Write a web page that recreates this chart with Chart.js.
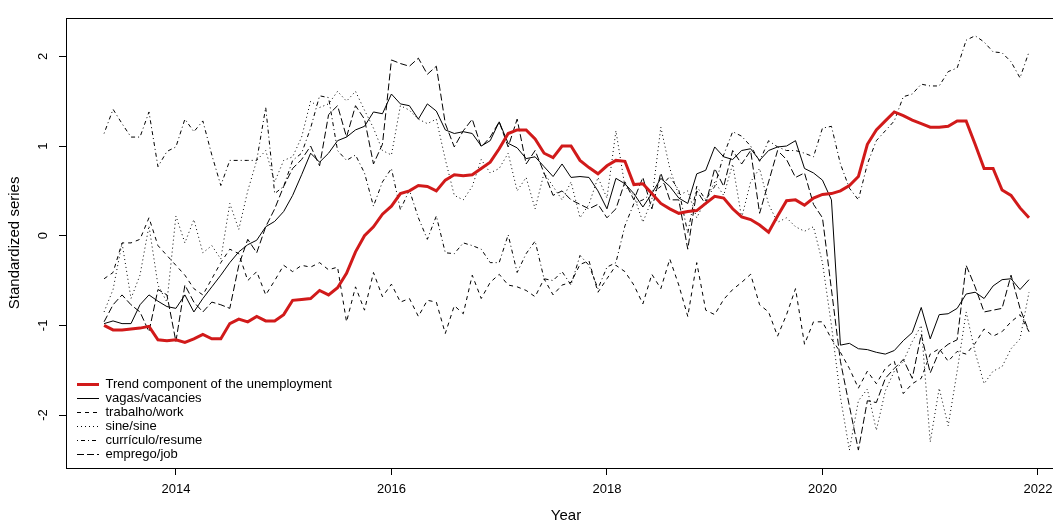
<!DOCTYPE html>
<html><head><meta charset="utf-8">
<script src="https://cdn.jsdelivr.net/npm/chart.js@4.4.1/dist/chart.umd.min.js"></script>
<style>
html,body{margin:0;padding:0;background:#fff;overflow:hidden;}
#wrap{position:relative;width:1075px;height:525px;}
</style></head><body>
<div id="wrap"><canvas id="c" width="1075" height="525"></canvas></div>
<script>
// Monthly observations: May 2013 .. Dec 2021 (104 months)
const startYear = 2013, startMonth = 5, nMonths = 104;
const months = Array.from({length: nMonths}, (_, i) => {
  const m = startMonth - 1 + i;
  return startYear + Math.floor(m / 12) + (m % 12) / 12;
});

const unemploymentTrend = [
 -1.00,-1.05,-1.05,-1.04,-1.03,-1.01,-1.16,-1.17,-1.16,-1.19,
 -1.15,-1.10,-1.15,-1.15,-0.98,-0.93,-0.96,-0.90,-0.95,-0.95,
 -0.88,-0.72,-0.71,-0.70,-0.61,-0.66,-0.58,-0.42,-0.18,0.00,
 0.10,0.24,0.33,0.47,0.50,0.56,0.55,0.50,0.62,0.68,
 0.67,0.68,0.75,0.82,0.97,1.14,1.18,1.18,1.08,0.92,
 0.87,1.00,1.00,0.84,0.76,0.69,0.78,0.84,0.83,0.57,
 0.58,0.47,0.36,0.30,0.25,0.27,0.28,0.36,0.44,0.42,
 0.30,0.21,0.18,0.12,0.04,0.22,0.39,0.40,0.34,0.42,
 0.46,0.47,0.50,0.56,0.66,1.02,1.18,1.28,1.38,1.34,
 1.29,1.25,1.21,1.21,1.22,1.28,1.28,1.02,0.75,0.75,
 0.51,0.45,0.31,0.20];

const vagas = [
 -0.98,-0.95,-0.98,-0.98,-0.77,-0.66,-0.73,-0.79,-0.81,-0.66,
 -0.85,-0.70,-0.57,-0.44,-0.30,-0.18,-0.10,-0.05,0.10,0.16,
 0.27,0.45,0.68,0.92,0.82,0.92,1.06,1.10,1.18,1.22,
 1.38,1.36,1.58,1.47,1.45,1.30,1.47,1.39,1.18,1.14,
 1.16,1.14,1.00,1.06,1.27,1.03,0.98,0.86,0.88,0.77,
 0.66,0.80,0.65,0.66,0.65,0.50,0.30,0.64,0.58,0.47,
 0.32,0.47,0.64,0.55,0.42,0.36,0.69,0.73,0.99,0.88,
 0.85,0.95,0.97,0.84,0.95,0.99,1.00,1.06,0.75,0.70,
 0.62,0.40,-1.22,-1.20,-1.26,-1.27,-1.30,-1.32,-1.28,-1.17,
 -1.08,-0.80,-1.15,-0.88,-0.87,-0.81,-0.65,-0.63,-0.70,-0.56,
 -0.49,-0.48,-0.60,-0.49];

const trabalho = [
 -0.48,-0.41,-0.08,-0.08,-0.04,0.20,-0.11,-0.22,-0.33,-0.44,
 -0.59,-0.66,-0.48,-0.30,-0.15,-0.20,-0.50,-0.40,-0.66,-0.50,
 -0.33,-0.40,-0.33,-0.35,-0.30,-0.38,-0.35,-0.96,-0.57,-0.83,
 -0.41,-0.68,-0.54,-0.74,-0.70,-0.90,-0.72,-0.74,-1.09,-0.78,
 -0.87,-0.44,-0.70,-0.52,-0.43,-0.55,-0.57,-0.61,-0.68,-0.48,
 -0.66,-0.55,-0.52,-0.32,-0.28,-0.63,-0.48,-0.33,-0.40,-0.55,
 -0.76,-0.43,-0.59,-0.26,-0.55,-0.90,-0.30,-0.83,-0.88,-0.71,
 -0.60,-0.52,-0.43,-0.77,-0.85,-1.12,-0.88,-0.59,-1.21,-0.96,
 -0.96,-1.15,-1.30,-1.48,-1.70,-1.51,-1.65,-1.48,-1.40,-1.76,
 -1.65,-1.59,-1.32,-1.26,-1.40,-1.29,-1.32,-1.20,-1.04,-1.12,
 -1.07,-0.96,-0.88,-1.07];

const sine = [
 -0.85,-0.60,-0.08,-0.70,-0.44,0.11,-0.55,-0.74,0.22,-0.08,
 0.18,-0.19,-0.11,-0.26,0.36,0.07,0.50,0.84,0.95,0.60,
 0.84,0.88,1.10,1.50,1.43,1.47,1.61,1.50,1.61,1.40,
 1.20,0.95,0.90,1.45,1.40,1.30,1.25,1.30,0.85,0.45,
 0.40,0.55,0.85,0.70,0.75,0.92,0.50,0.65,0.30,0.70,
 0.55,0.40,0.60,0.20,0.35,0.65,0.42,1.17,0.55,0.45,
 0.15,0.40,1.21,0.75,0.45,0.50,0.20,0.40,0.60,0.45,
 0.80,0.20,0.60,0.75,0.35,0.15,0.20,0.10,0.05,0.10,
 -0.30,-1.00,-1.80,-2.39,-1.84,-1.71,-2.17,-1.73,-1.51,-1.40,
 -1.18,-1.00,-2.30,-1.70,-2.12,-1.51,-0.85,-1.30,-1.65,-1.51,
 -1.46,-1.26,-1.15,-0.63];

const curriculo = [
 1.14,1.41,1.25,1.10,1.10,1.38,0.77,0.94,0.99,1.30,
 1.16,1.28,0.90,0.56,0.84,0.84,0.84,0.84,1.43,0.47,
 0.55,0.84,0.92,1.20,1.56,1.54,0.95,0.84,0.90,0.70,
 0.33,0.60,0.75,0.29,0.51,0.20,-0.04,0.22,-0.19,-0.20,
 -0.08,-0.11,-0.15,-0.30,-0.30,0.01,-0.41,-0.20,-0.06,-0.48,
 -0.50,-0.40,-0.55,-0.22,-0.33,-0.59,-0.35,-0.30,0.11,0.36,
 0.40,0.47,0.55,0.66,0.51,0.03,0.55,0.40,0.55,0.90,
 1.16,1.11,1.00,0.83,1.06,0.99,0.95,0.95,0.92,0.88,
 1.20,1.22,0.80,0.53,0.40,0.80,1.06,1.17,1.28,1.55,
 1.58,1.69,1.67,1.67,1.83,1.87,2.18,2.23,2.16,2.05,
 2.04,1.94,1.76,2.05];

const emprego = [
 -0.96,-0.77,-0.66,-0.77,-0.85,-1.07,-0.60,-0.66,-1.18,-0.55,
 -0.74,-0.85,-0.74,-0.77,-0.81,-0.33,-0.04,-0.19,0.10,0.30,
 0.55,0.75,0.85,1.00,0.78,1.35,1.45,1.10,1.45,1.30,
 0.80,1.02,1.96,1.92,1.89,1.98,1.80,1.89,1.25,0.99,
 1.17,1.30,0.99,1.10,1.27,0.99,1.30,0.80,0.95,0.70,
 0.45,0.50,0.40,0.35,0.30,0.35,0.20,0.30,0.60,0.40,
 0.65,0.30,0.70,0.40,0.40,-0.15,0.50,0.35,0.75,0.55,
 0.95,0.80,0.95,0.25,0.60,0.95,0.85,0.65,0.70,0.35,
 0.20,-0.60,-1.40,-1.90,-2.39,-1.84,-1.86,-1.59,-1.48,-1.38,
 -1.59,-1.10,-1.53,-1.29,-1.21,-1.16,-0.33,-0.57,-0.85,-0.83,
 -0.81,-0.44,-0.81,-1.07];

const seriesNames = ['Trend component of the unemployment','vagas/vacancies','trabalho/work','sine/sine','currículo/resume','emprego/job'];
const xTicks = [2014, 2016, 2018, 2020, 2022];
const yTicks = [-2, -1, 0, 1, 2];

const FONT = "'Liberation Sans', Arial, sans-serif";
const pts = arr => months.map((x, i) => ({x, y: arr[i]}));
const blk = (label, arr, dash) => ({label, data: pts(arr), borderColor: '#000', backgroundColor: '#000',
  borderWidth: 1, borderDash: dash, pointRadius: 0, tension: 0, fill: false});

const framePlugin = {
  id: 'frame',
  beforeDraw(chart) {
    const lg = chart.legend, ca = chart.chartArea;
    if (lg) { lg.left = ca.left + 10; lg.bottom = ca.bottom - 6; }
  },
  afterDatasetsDraw(chart) {
    const {ctx, chartArea: a} = chart;
    ctx.save();
    ctx.strokeStyle = '#000'; ctx.lineWidth = 1; ctx.setLineDash([]);
    ctx.strokeRect(Math.round(a.left) + 0.5, Math.round(a.top) + 0.5, Math.round(a.right - a.left), Math.round(a.bottom - a.top));
    ctx.restore();
  }
};

new Chart(document.getElementById('c'), {
  type: 'line',
  data: {
    datasets: [
      {label: seriesNames[0], data: pts(unemploymentTrend), borderColor: '#d11a1a', backgroundColor: '#d11a1a',
       borderWidth: 3, borderDash: [], pointRadius: 0, tension: 0, fill: false},
      blk(seriesNames[1], vagas, []),
      blk(seriesNames[2], trabalho, [4, 4]),
      blk(seriesNames[3], sine, [1, 3]),
      blk(seriesNames[4], curriculo, [1, 3, 4, 3]),
      blk(seriesNames[5], emprego, [7, 3])
    ]
  },
  plugins: [framePlugin],
  options: {
    responsive: false, animation: false, devicePixelRatio: 1,
    layout: {padding: {top: 13, right: 9, left: 0, bottom: 0}},
    plugins: {
      tooltip: {enabled: false},
      legend: {
        position: 'chartArea', align: 'end',
        labels: {usePointStyle: true, pointStyle: 'line', pointStyleWidth: 22, boxHeight: 13,
          padding: 1, color: '#000', font: {family: FONT, size: 13},
          generateLabels: chart => Chart.defaults.plugins.legend.labels.generateLabels(chart).map(it => {
            const ds = chart.data.datasets[it.datasetIndex];
            return Object.assign(it, {lineDash: ds.borderDash, lineWidth: ds.borderWidth,
              strokeStyle: ds.borderColor, pointStyle: 'line'});
          })
        }
      }
    },
    scales: {
      x: {
        type: 'linear', min: 2012.98, max: 2022.26,
        afterBuildTicks: s => { s.ticks = xTicks.map(v => ({value: v})); },
        afterFit: s => { s.height = 57; },
        grid: {drawOnChartArea: false, drawTicks: true, tickLength: 7, color: '#000'},
        border: {display: false},
        ticks: {color: '#000', padding: 7, maxRotation: 0, font: {family: FONT, size: 13}, callback: v => String(v)},
        title: {display: true, text: 'Year', color: '#000', font: {family: FONT, size: 15}, padding: {top: 0, bottom: 0}}
      },
      y: {
        type: 'linear', min: -2.59, max: 2.43,
        afterBuildTicks: s => { s.ticks = yTicks.map(v => ({value: v})); },
        afterFit: s => { s.width = 66; },
        grid: {drawOnChartArea: false, drawTicks: true, tickLength: 7, color: '#000'},
        border: {display: false},
        ticks: {color: '#000', padding: 10, minRotation: 90, maxRotation: 90, crossAlign: 'center',
          font: {family: FONT, size: 13}, callback: v => String(v)},
        title: {display: true, text: 'Standardized series', color: '#000', font: {family: FONT, size: 15}, padding: {top: 6, bottom: 0}}
      }
    }
  }
});
</script>
</body></html>
